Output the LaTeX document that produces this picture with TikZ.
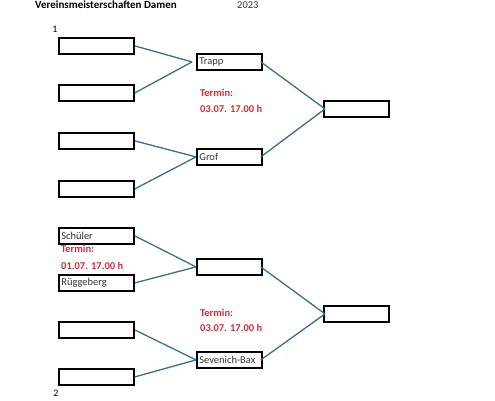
\documentclass[tikz,border=0pt]{standalone}
\usepackage{fontspec}
\setmainfont{Carlito}
\begin{document}
\begin{tikzpicture}[x=1bp,y=-1bp,
  slot/.style={draw=black,line width=1.8bp,minimum width=75bp,minimum height=16bp,inner sep=1.5bp,anchor=north west,text width=70bp,align=left,font=\fontsize{10.5}{11}\selectfont,text=black!80},
  slotm/.style={slot,minimum width=65bp,text width=60bp},
  link/.style={draw={rgb,255:red,60;green,110;blue,140},line width=1.3bp},
  termin/.style={text={rgb,255:red,220;green,40;blue,50},font=\bfseries\fontsize{10.5}{11}\selectfont,anchor=west,inner sep=0pt}]
\useasboundingbox (0,0) rectangle (495,400);
\node[anchor=base west,font=\bfseries\fontsize{11}{12}\selectfont,inner sep=0pt] (title) at (35,8) {Vereinsmeisterschaften Damen};
\node[anchor=base west,font=\fontsize{10.5}{12}\selectfont,text=black!80,inner sep=0pt] (year) at (237,8) {2023};
\node[font=\fontsize{10}{11}\selectfont,inner sep=0pt] (n1) at (55,29) {1};
\node[font=\fontsize{10}{11}\selectfont,inner sep=0pt] (n2) at (56,393) {2};
% left column
\node[slot] (a1) at (58,37) {};
\node[slot] (a2) at (58,84) {};
\node[slot] (a3) at (58,132) {};
\node[slot] (a4) at (58,180) {};
\node[slot] (a5) at (58,227) {Schüler};
\node[slot] (a6) at (58,274) {Rüggeberg};
\node[slot] (a7) at (58,321) {};
\node[slot] (a8) at (58,368) {};
% middle column
\node[slotm] (b1) at (196,53) {Trapp};
\node[slotm] (b2) at (196,148) {Grof};
\node[slotm] (b3) at (196,258) {};
\node[slotm] (b4) at (196,351) {Sevenich-Bax};
% right column
\node[slotm] (c1) at (323,100) {};
\node[slotm] (c2) at (323,305) {};
% connectors
\draw[link] (a1.east) -- ([xshift=-4bp]b1.west);
\draw[link] (a2.east) -- ([xshift=-4bp]b1.west);
\draw[link] (a3.east) -- (b2.west);
\draw[link] (a4.east) -- (b2.west);
\draw[link] (a5.east) -- (b3.west);
\draw[link] (a6.east) -- (b3.west);
\draw[link] (a7.east) -- (b4.west);
\draw[link] (a8.east) -- (b4.west);
\draw[link] ([xshift=-2bp]b1.east) -- ([xshift=2bp]c1.west);
\draw[link] ([xshift=-2bp]b2.east) -- ([xshift=2bp]c1.west);
\draw[link] ([xshift=-2bp]b3.east) -- ([xshift=2bp]c2.west);
\draw[link] ([xshift=-2bp]b4.east) -- ([xshift=2bp]c2.west);
% dates
\node[termin] (t1a) at (200,93) {Termin:};
\node[termin] (t1b) at (200,109) {03.07. 17.00 h};
\node[termin] (t2a) at (61,249) {Termin:};
\node[termin] (t2b) at (61,266) {01.07. 17.00 h};
\node[termin] (t3a) at (200,313) {Termin:};
\node[termin] (t3b) at (200,328) {03.07. 17.00 h};
\end{tikzpicture}
\end{document}
